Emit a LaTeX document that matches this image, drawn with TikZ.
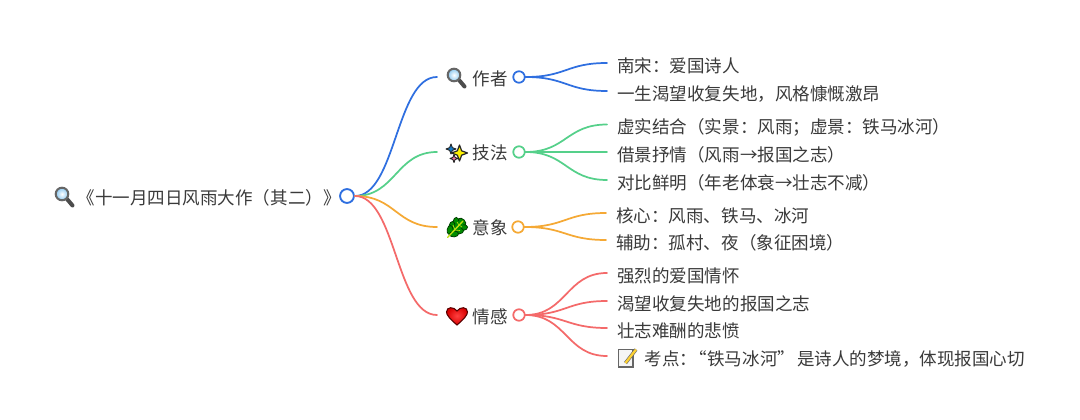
\documentclass[tikz,border=0pt]{standalone}
\usepackage{fontspec}
\usetikzlibrary{calc}
\setmainfont{Noto Sans CJK SC}
\definecolor{ink}{HTML}{3A3A3A}
\definecolor{cblue}{HTML}{2F6FE0}
\definecolor{cgreen}{HTML}{55D08A}
\definecolor{corange}{HTML}{F5A935}
\definecolor{cred}{HTML}{F46A6A}
\definecolor{lensblue}{HTML}{8CC8F0}
\newcommand{\iconlens}[2]{\begin{scope}[shift={(#1,#2)}]
  \draw[line width=3pt,line cap=round,draw=black!70] (3,2) -- (8.5,8.5);
  \draw[line width=1.5pt,draw=black!60,inner color=white,outer color=lensblue] (-2,-3) circle (6.3);
\end{scope}}
\newcommand{\starshape}[4]{\draw[line width=#4,draw=black!85,fill=#3,line join=round,shift={#1},scale=#2] (0,-1) -- (.27,-.27) -- (1,0) -- (.27,.27) -- (0,1) -- (-.27,.27) -- (-1,0) -- (-.27,-.27) -- cycle;}
\newcommand{\iconstar}[2]{\begin{scope}[shift={(#1,#2)}]
  \starshape{(-5,-3)}{5}{cyan!60!blue}{.7pt}
  \starshape{(-2,6.5)}{4}{magenta!40!pink}{.7pt}
  \starshape{(3.5,1)}{8}{yellow}{.9pt}
\end{scope}}
\newcommand{\iconherb}[2]{\begin{scope}[shift={(#1,#2)}]
  \foreach \px/\py/\a in {5/-6/-45,-1/-6/-95,6/-.5/5,-5/-2/-100,2/3/5,-7/2/-100,-3/6/5}{
    \draw[line width=.6pt,draw=green!25!black,fill=green!55!black] (\px,\py) ellipse [x radius=4.6,y radius=2.9,rotate=\a];}
  \fill[green!55!black] (-6,4) -- (1,-7) -- (7,-5) -- (3,2) -- cycle;
  \draw[line width=1pt,draw=yellow!75!green,line cap=round] (-9.5,9.5) -- (6,-7);
  \draw[line width=.5pt,draw=yellow!75!green] (-2,2) -- (-4,-3) (-2,2) -- (3,2.5) (2,-3) -- (0,-6) (2,-3) -- (5,-1);
\end{scope}}
\newcommand{\iconheart}[2]{\begin{scope}[shift={(#1,#2)}]
  \draw[line width=.8pt,draw=red!35!black,inner color=red!75!white,outer color=red!85!black] (0,9) .. controls (-7,3) and (-10.5,-1) .. (-10.5,-4) .. controls (-10.5,-9.5) and (-3,-9.5) .. (0,-5) .. controls (3,-9.5) and (10.5,-9.5) .. (10.5,-4) .. controls (10.5,-1) and (7,3) .. (0,9) -- cycle;
\end{scope}}
\newcommand{\iconmemo}[2]{\begin{scope}[shift={(#1,#2)}]
  \draw[line width=.8pt,draw=black!60,fill=black!4] (-9.5,-8.5) rectangle (5,9);
  \draw[line width=2.6pt,draw=black!60,line cap=butt] (8,-8.5) -- (-2.5,5);
  \draw[line width=1.7pt,draw=yellow!60!orange!80,line cap=butt] (8,-8.5) -- (-2.5,5);
\end{scope}}
\tikzset{
  dot/.style={circle,draw=#1,fill=white,line width=1.3pt,minimum size=8.6pt,inner sep=0pt},
  rootdot/.style={circle,draw=#1,fill=white,line width=1.4pt,minimum size=10.4pt,inner sep=0pt},
  label/.style={anchor=west,inner sep=0pt,text=ink,font=\fontsize{13.15}{15}\selectfont,text height=11.57pt,text depth=1.58pt},
  leaf/.style={anchor=west,inner ysep=0pt,inner xsep=7.5pt,text=ink,font=\fontsize{13.15}{15}\selectfont,text height=15.3pt,text depth=1.58pt},
  wire/.style={line width=1.3pt,draw=#1,line cap=round},
  sig/.style={to path={.. controls ($(\tikztostart)!.5!(\tikztotarget|-\tikztostart)$) and ($(\tikztotarget)!.5!(\tikztostart|-\tikztotarget)$) .. (\tikztotarget)}}
}
\begin{document}
\begin{tikzpicture}[x=.75pt,y=-.75pt]
\useasboundingbox (0,0) rectangle (1080,420);
\fill[white] (0,0) rectangle (1080,420);

\node[label] (root) at (54,197.5) {\hspace*{17.5pt}《十一月四日风雨大作（其二）》};
\node[rootdot=cblue] (c0) at (347,196) {};

\node[label] (t1) at (437,78.5) {\hspace*{26.5pt}作者};
\node[label] (t2) at (437,153) {\hspace*{26.5pt}技法};
\node[label] (t3) at (437,228) {\hspace*{26.5pt}意象};
\node[label] (t4) at (437,316.5) {\hspace*{26.5pt}情感};
\coordinate (in1) at (437,77);
\coordinate (in2) at (437,152);
\coordinate (in3) at (437,227);
\coordinate (in4) at (437,315);

\node[dot=cblue] (c1) at (519,77) {};
\node[dot=cgreen] (c2) at (519,152) {};
\node[dot=corange] (c3) at (518,227) {};
\node[dot=cred] (c4) at (519,315) {};

\node[leaf] (a1) at (607,63) {南宋：爱国诗人};
\node[leaf] (a2) at (607,91) {一生渴望收复失地，风格慷慨激昂};
\node[leaf] (b1) at (607,124.5) {虚实结合（实景：风雨；虚景：铁马冰河）};
\node[leaf] (b2) at (607,152) {借景抒情（风雨→报国之志）};
\node[leaf] (b3) at (607,180) {对比鲜明（年老体衰→壮志不减）};
\node[leaf] (d1) at (606,213) {核心：风雨、铁马、冰河};
\node[leaf] (d2) at (606,240) {辅助：孤村、夜（象征困境）};
\node[leaf] (e1) at (607,273) {强烈的爱国情怀};
\node[leaf] (e2) at (607,301) {渴望收复失地的报国之志};
\node[leaf] (e3) at (607,328) {壮志难酬的悲愤};
\node[leaf] (e4) at (607,356) {\hspace*{20.5pt}考点：\kern-5.5pt“铁马冰河”\kern1.5pt 是诗人的梦境，体现报国心切};

\draw[wire=cblue] (c0.east) to[sig] (in1);
\draw[wire=cgreen] (c0.east) to[sig] (in2);
\draw[wire=corange] (c0.east) to[sig] (in3);
\draw[wire=cred] (c0.east) to[sig] (in4);
\draw[wire=cblue] (c1.east) to[sig] (a1.west);
\draw[wire=cblue] (c1.east) to[sig] (a2.west);
\draw[wire=cgreen] (c2.east) to[sig] (b1.west);
\draw[wire=cgreen] (c2.east) to[sig] (b2.west);
\draw[wire=cgreen] (c2.east) to[sig] (b3.west);
\draw[wire=corange] (c3.east) to[sig] (d1.west);
\draw[wire=corange] (c3.east) to[sig] (d2.west);
\draw[wire=cred] (c4.east) to[sig] (e1.west);
\draw[wire=cred] (c4.east) to[sig] (e2.west);
\draw[wire=cred] (c4.east) to[sig] (e3.west);
\draw[wire=cred] (c4.east) to[sig] (e4.west);

\iconlens{64}{197}
\iconlens{456}{78}
\iconstar{456}{152}
\iconherb{457}{228}
\iconheart{457}{316}
\iconmemo{628}{358}
\end{tikzpicture}
\end{document}
